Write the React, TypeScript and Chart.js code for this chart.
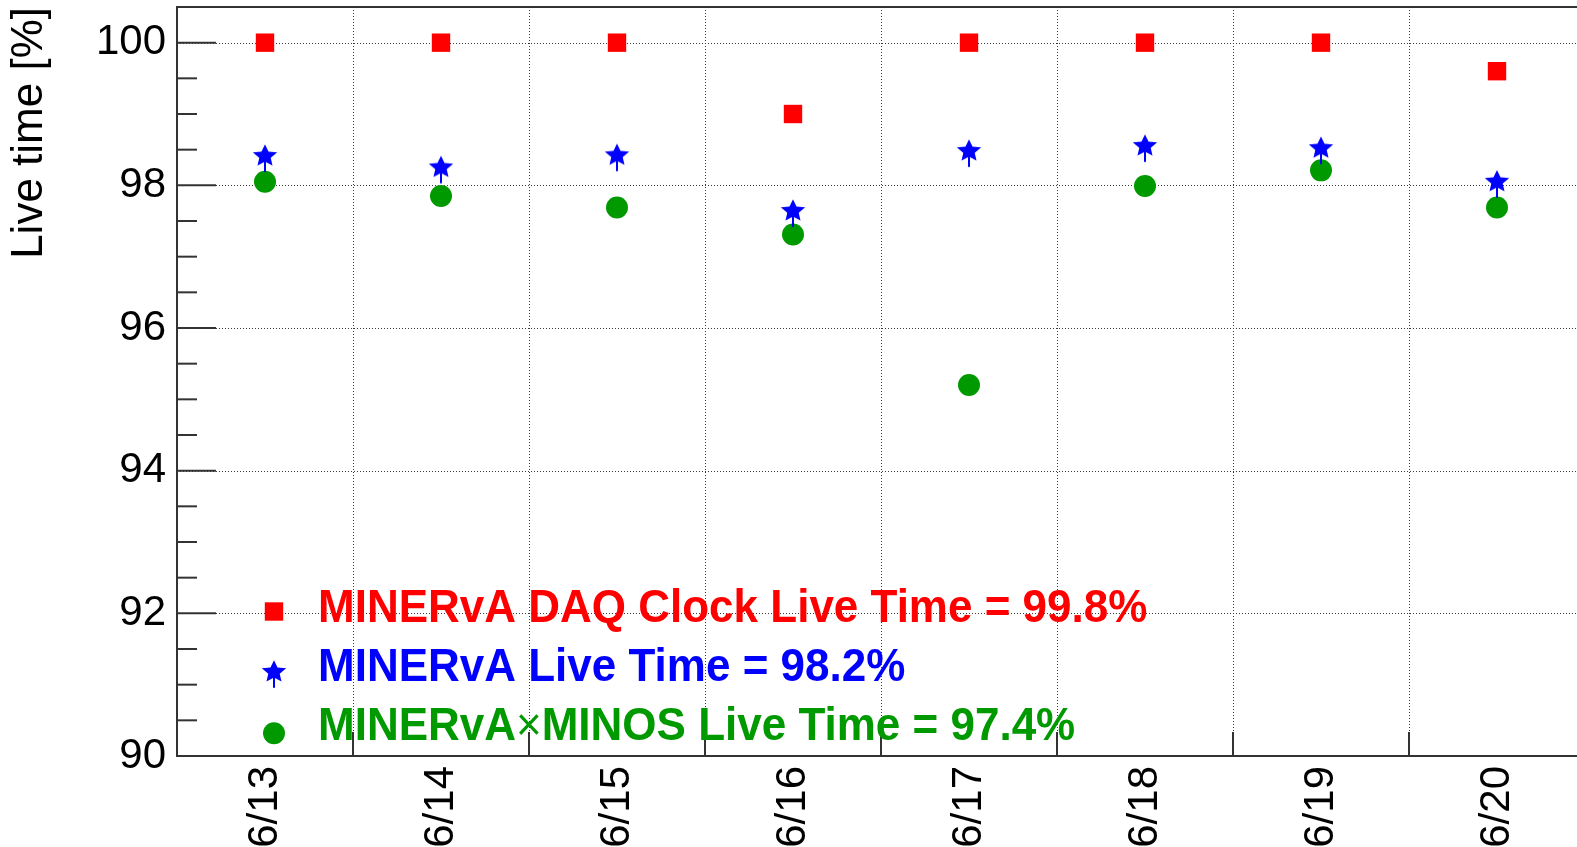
import React, { useEffect, useRef } from 'react';
import { Chart, registerables } from 'chart.js';

Chart.register(...registerables);

// ---- Data ----
const dates = ['6/13', '6/14', '6/15', '6/16', '6/17', '6/18', '6/19', '6/20'];
const daqClockLive = [100, 100, 100, 99.0, 100, 100, 100, 99.6];
const minervaLive = [98.41, 98.25, 98.42, 97.64, 98.48, 98.55, 98.52, 98.05];
const minervaMinosLive = [98.05, 97.85, 97.69, 97.31, 95.2, 97.99, 98.21, 97.69];
const legendLabels = [
  'MINERvA DAQ Clock Live Time = 99.8%',
  'MINERvA Live Time = 98.2%',
  'MINERvA×MINOS Live Time = 97.4%',
];
const yAxisTitle = 'Live time [%]';
const Y_MIN = 90;
const Y_MAX = 100.5;
const Y_STEP = 2;
const Y_MINOR_STEP = 0.5;

// ---- Styles ----
const FONT = "'Liberation Sans', Arial, Helvetica, sans-serif";
const RED = '#ff0000';
const BLUE = '#0000ff';
const GREEN = '#009900';
const AXIS = '#333333';
const GRID = '#3a3a3a';

function makeStar(color: string): HTMLCanvasElement {
  const c = document.createElement('canvas');
  c.width = 30;
  c.height = 34;
  const g = c.getContext('2d')!;
  const cx = 15;
  const cy = 17;
  const Rx = 12.8, Ry = 11.8, rx = 6, ry = 5.6;
  g.fillStyle = color;
  g.beginPath();
  for (let i = 0; i < 10; i++) {
    const a = -Math.PI / 2 + (i * Math.PI) / 5;
    const outer = i % 2 === 0;
    const px = cx + (outer ? Rx : rx) * Math.cos(a);
    const py = cy + (outer ? Ry : ry) * Math.sin(a);
    if (i === 0) g.moveTo(px, py);
    else g.lineTo(px, py);
  }
  g.closePath();
  g.fill();
  // small tail below the star
  g.fillRect(cx - 1, cy + ry - 1, 2, Ry - ry + 5);
  return c;
}

const rootFramePlugin = {
  id: 'rootFrame',
  beforeDatasetsDraw(chart: any) {
    const { ctx, chartArea } = chart;
    const { left, right, top, bottom } = chartArea;
    const x = chart.scales.x;
    const y = chart.scales.y;
    ctx.save();
    // dotted grid
    ctx.strokeStyle = GRID;
    ctx.lineWidth = 1;
    ctx.setLineDash([1, 2]);
    for (let v = Y_MIN + Y_STEP; v <= Y_MAX; v += Y_STEP) {
      const py = Math.round(y.getPixelForValue(v)) + 0.5;
      ctx.beginPath();
      ctx.moveTo(left, py);
      ctx.lineTo(right, py);
      ctx.stroke();
    }
    const edges: number[] = [];
    for (let i = 1; i < dates.length; i++) {
      edges.push((x.getPixelForValue(i - 1) + x.getPixelForValue(i)) / 2);
    }
    for (const e of edges) {
      const px = Math.round(e) + 0.5;
      ctx.beginPath();
      ctx.moveTo(px, top);
      ctx.lineTo(px, bottom);
      ctx.stroke();
    }
    ctx.setLineDash([]);
    // ticks
    ctx.strokeStyle = AXIS;
    ctx.lineWidth = 2;
    for (let v = Y_MIN; v <= Y_MAX + 1e-9; v += Y_MINOR_STEP) {
      const isMajor = Math.abs((v - Y_MIN) / Y_STEP - Math.round((v - Y_MIN) / Y_STEP)) < 1e-6;
      const py = y.getPixelForValue(v);
      ctx.beginPath();
      ctx.moveTo(left, py);
      ctx.lineTo(left + (isMajor ? 39 : 20), py);
      ctx.stroke();
    }
    for (const e of edges) {
      ctx.beginPath();
      ctx.moveTo(e, bottom);
      ctx.lineTo(e, bottom - 24);
      ctx.stroke();
    }
    // frame
    ctx.strokeRect(left, top, right - left, bottom - top);
    ctx.restore();
  },
};

function makeLegendPlugin(star: HTMLCanvasElement) {
  return {
    id: 'rootLegend',
    afterDatasetsDraw(chart: any) {
      const { ctx } = chart;
      const markerX = 274;
      const textX = 318;
      const markerY = [611.5, 672, 733.3];
      const baseY = [621.7, 680.5, 740.3];
      const colors = [RED, BLUE, GREEN];
      ctx.save();
      // markers
      ctx.fillStyle = RED;
      ctx.fillRect(markerX - 9.2, markerY[0] - 9.2, 18.4, 18.4);
      ctx.drawImage(star, markerX - star.width / 2, markerY[1] - star.height / 2);
      ctx.fillStyle = GREEN;
      ctx.beginPath();
      ctx.arc(markerX, markerY[2], 11, 0, Math.PI * 2);
      ctx.fill();
      // texts
      const bold = `bold 44px ${FONT}`;
      const normal = `normal 44px ${FONT}`;
      legendLabels.forEach((label, i) => {
        ctx.save();
        ctx.translate(textX, baseY[i]);
        ctx.scale(1, 1.05);
        ctx.fillStyle = colors[i];
        ctx.textBaseline = 'alphabetic';
        ctx.textAlign = 'left';
        const parts = label.split('×');
        let cx = 0;
        parts.forEach((p, j) => {
          if (j > 0) {
            ctx.font = normal;
            ctx.fillText('×', cx, 0);
            cx += ctx.measureText('×').width;
          }
          ctx.font = bold;
          ctx.fillText(p, cx, 0);
          cx += ctx.measureText(p).width;
        });
        ctx.restore();
      });
      ctx.restore();
    },
  };
}

export default function App() {
  const ref = useRef<HTMLCanvasElement | null>(null);

  useEffect(() => {
    if (!ref.current) return;
    const star = makeStar(BLUE);
    const chart = new Chart(ref.current, {
      type: 'line',
      data: {
        labels: dates,
        datasets: [
          {
            label: legendLabels[0],
            data: daqClockLive,
            showLine: false,
            pointStyle: 'rect',
            pointRadius: 13,
            pointBackgroundColor: RED,
            pointBorderWidth: 0,
            borderColor: RED,
            backgroundColor: RED,
          },
          {
            label: legendLabels[1],
            data: minervaLive,
            showLine: false,
            pointStyle: star as any,
            pointRadius: 12,
            pointBackgroundColor: BLUE,
            pointBorderWidth: 0,
            borderColor: BLUE,
            backgroundColor: BLUE,
          },
          {
            label: legendLabels[2],
            data: minervaMinosLive,
            showLine: false,
            pointStyle: 'circle',
            pointRadius: 11,
            pointBackgroundColor: GREEN,
            pointBorderWidth: 0,
            borderColor: GREEN,
            backgroundColor: GREEN,
          },
        ],
      },
      options: {
        responsive: false,
        animation: false,
        events: [],
        layout: { autoPadding: false, padding: { top: 7, right: 15, left: 0, bottom: 0 } },
        plugins: {
          legend: { display: false },
          tooltip: { enabled: false },
        },
        scales: {
          x: {
            type: 'category',
            offset: true,
            grid: { display: false, drawTicks: false, offset: true },
            border: { display: false },
            ticks: {
              maxRotation: 90,
              minRotation: 90,
              autoSkip: false,
              padding: 10,
              color: '#000',
              font: { family: FONT, size: 42 },
            },
            afterFit: (s: any) => {
              s.height = 91;
              s.paddingLeft = 0;
              s.paddingRight = 0;
              s.paddingTop = 0;
              s.paddingBottom = 0;
            },
          },
          y: {
            type: 'linear',
            min: Y_MIN,
            max: Y_MAX,
            grid: { display: false, drawTicks: false },
            border: { display: false },
            ticks: {
              stepSize: Y_STEP,
              includeBounds: false,
              padding: 11,
              color: '#000',
              font: { family: FONT, size: 42 },
            },
            title: {
              display: true,
              text: yAxisTitle,
              align: 'end',
              color: '#000',
              padding: { top: 3, bottom: 0 },
              font: { family: FONT, size: 44 },
            },
            afterFit: (s: any) => {
              s.width = 177;
              s.paddingTop = 0;
              s.paddingBottom = 0;
              s.paddingLeft = 0;
              s.paddingRight = 0;
            },
          },
        },
      },
      plugins: [rootFramePlugin, makeLegendPlugin(star)],
    } as any);
    return () => chart.destroy();
  }, []);

  return (
    <div
      style={{
        position: 'fixed',
        left: 0,
        top: 0,
        width: 1577,
        height: 847,
        overflow: 'hidden',
        background: '#fff',
      }}
    >
      <canvas ref={ref} width={1600} height={847} style={{ display: 'block' }} />
    </div>
  );
}
